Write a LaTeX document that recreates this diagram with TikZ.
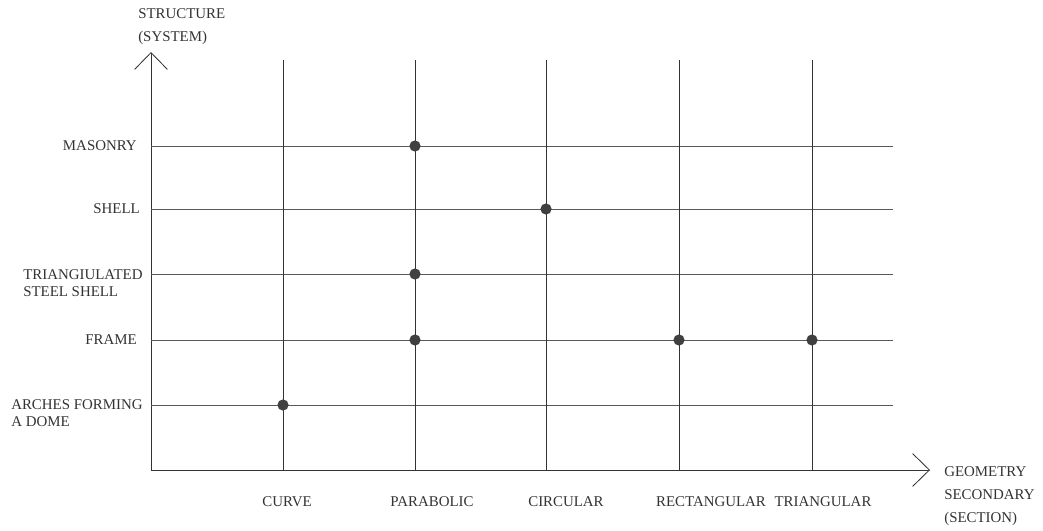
\documentclass[tikz,border=0pt]{standalone}
\usepackage{fontspec}
\setmainfont{Liberation Serif}
\usetikzlibrary{arrows.meta}

\begin{document}
\begin{tikzpicture}[x=0.025cm,y=-0.025cm,
	axis/.style={draw=black!80,line width=0.6pt,-{Straight Barb[length=0.42cm,width=0.82cm,line width=0.6pt]}},
	colline/.style={draw=black!80,line width=0.7pt},
	rowline/.style={draw=black!65,line width=0.6pt},
	dot/.style={circle,fill=black!75,inner sep=0pt,minimum size=0.28cm},
	lab/.style={font=\fontsize{10.6}{12.5}\selectfont,text=black!80,inner sep=0pt},
	widelab/.style={lab,font=\fontsize{10.6}{16.3}\selectfont}]
	
	\useasboundingbox (0,0) rectangle (1043,531);
	
	% axes
	\coordinate (O) at (151,470);
	\coordinate (ytop) at (151,52);
	\coordinate (xend) at (930,470);
	\draw[axis] (O) -- (ytop);
	\draw[axis] (O) -- (xend);
	
	\node[widelab,anchor=west,align=left] (ylab) at (138,27) {STRUCTURE\\(SYSTEM)};
	\node[widelab,anchor=west,align=left] (xlab) at (944,496) {GEOMETRY\\SECONDARY\\(SECTION)};
	
	% rows
	\foreach \y/\n in {146/masonry,209/shell,274/triang,340/frame,405/arches}
	{
		\coordinate (r-\n) at (151,\y);
		\coordinate (re-\n) at (893,\y);
		\draw[rowline] (r-\n) -- (re-\n);
	}
	
	% columns
	\foreach \x/\n in {283/curve,415/parabolic,546/circular,679/rectangular,812/triangular}
	{
		\coordinate (c-\n) at (\x,60);
		\coordinate (cb-\n) at (\x,470);
		\draw[colline] (c-\n) -- (cb-\n);
	}
	
	% row labels
	\node[lab,anchor=east] (masonry) at (137,146) {MASONRY};
	\node[lab,anchor=east] (shell) at (140,209) {SHELL};
	\node[lab,anchor=west,align=left] (triang) at (23,283) {TRIANGIULATED\\STEEL SHELL};
	\node[lab,anchor=east] (frame) at (137,340) {FRAME};
	\node[lab,anchor=west,align=left] (arches) at (11,413) {ARCHES FORMING\\A DOME};
	
	% column labels
	\node[lab] (curve) at (287,502) {CURVE};
	\node[lab] (parabolic) at (432,502) {PARABOLIC};
	\node[lab] (circular) at (566,502) {CIRCULAR};
	\node[lab] (rectangular) at (711,502) {RECTANGULAR};
	\node[lab] (triangular) at (823,502) {TRIANGULAR};
	
	% points
	\node[dot] (d1) at (415,146) {};
	\node[dot] (d2) at (546,209) {};
	\node[dot] (d3) at (415,274) {};
	\node[dot] (d4) at (415,340) {};
	\node[dot] (d5) at (679,340) {};
	\node[dot] (d6) at (812,340) {};
	\node[dot] (d7) at (283,405) {};
	
\end{tikzpicture}
\end{document}
